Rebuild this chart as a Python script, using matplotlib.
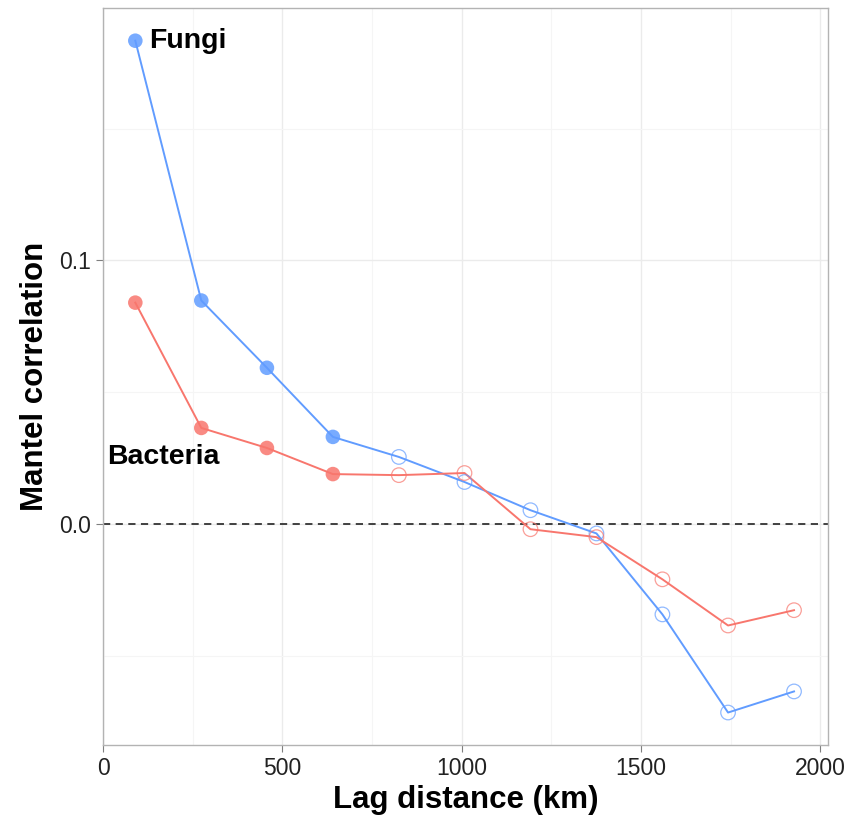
import numpy as np
import matplotlib.pyplot as plt
from matplotlib.ticker import MultipleLocator

plt.rcParams["font.family"] = ["Liberation Sans", "DejaVu Sans"]

# ============================
# DATA
# ============================
lag_km = [90, 274, 457, 641, 825, 1008, 1192, 1376, 1560, 1743, 1927]

fungi = [0.1833, 0.0848, 0.0593, 0.0331, 0.0255, 0.0160,
         0.0053, -0.0035, -0.0342, -0.0714, -0.0634]
bacteria = [0.0840, 0.0365, 0.0289, 0.0190, 0.0186, 0.0194,
            -0.0019, -0.0049, -0.0209, -0.0384, -0.0326]

# significant lags are drawn as filled points
fungi_sig = [True, True, True, True, False, False, False, False, False, False, False]
bact_sig = [True, True, True, True, False, False, False, False, False, False, False]

BLUE = "#619CFF"
RED = "#F8766D"

# ============================
# PLOT
# ============================
fig = plt.figure(figsize=(8.53, 8.25), dpi=100)
ax = fig.add_axes([0.1208, 0.097, 0.85, 0.8933])

ax.axhline(0, color="#333333", linestyle=(0, (4, 3)), linewidth=1.3, zorder=1)


def draw_series(x, y, sig, color):
    x = np.asarray(x)
    y = np.asarray(y)
    sig = np.asarray(sig)
    ax.plot(x, y, color=color, linewidth=1.4, zorder=2)
    ax.scatter(x[sig], y[sig], s=110, color=color, alpha=0.85,
               edgecolors="none", zorder=3)
    ax.scatter(x[~sig], y[~sig], s=110, facecolors="none",
               edgecolors=color, linewidths=0.9, alpha=0.7, zorder=3)


draw_series(lag_km, fungi, fungi_sig, BLUE)
draw_series(lag_km, bacteria, bact_sig, RED)

ax.text(129, 0.1833, "Fungi", fontsize=20.5, fontweight="bold",
        ha="left", va="center")
ax.text(12, 0.0255, "Bacteria", fontsize=20.5, fontweight="bold",
        ha="left", va="center")

ax.set_xlim(0, 2022)
ax.set_ylim(-0.0837, 0.1957)

ax.xaxis.set_major_locator(MultipleLocator(500))
ax.xaxis.set_minor_locator(MultipleLocator(250))
ax.yaxis.set_minor_locator(MultipleLocator(0.05))
ax.set_yticks([0.0, 0.1])
ax.set_yticklabels(["0.0", "0.1"])

ax.grid(True, which="major", color="#EBEBEB", linewidth=1.0, zorder=0)
ax.grid(True, which="minor", color="#F5F5F5", linewidth=0.8, zorder=0)
ax.set_axisbelow(True)

for sp in ax.spines.values():
    sp.set_color("#B3B3B3")
    sp.set_linewidth(1.0)

ax.tick_params(which="major", length=5, color="#7F7F7F", labelsize=16.5,
               labelcolor="#222222", pad=4)
ax.tick_params(which="minor", length=0)

ax.set_xlabel("Lag distance (km)", fontsize=22.5, fontweight="bold", labelpad=3)
ax.set_ylabel("Mantel correlation", fontsize=22.5, fontweight="bold", labelpad=6)

fig.savefig("out.png", dpi=100)
